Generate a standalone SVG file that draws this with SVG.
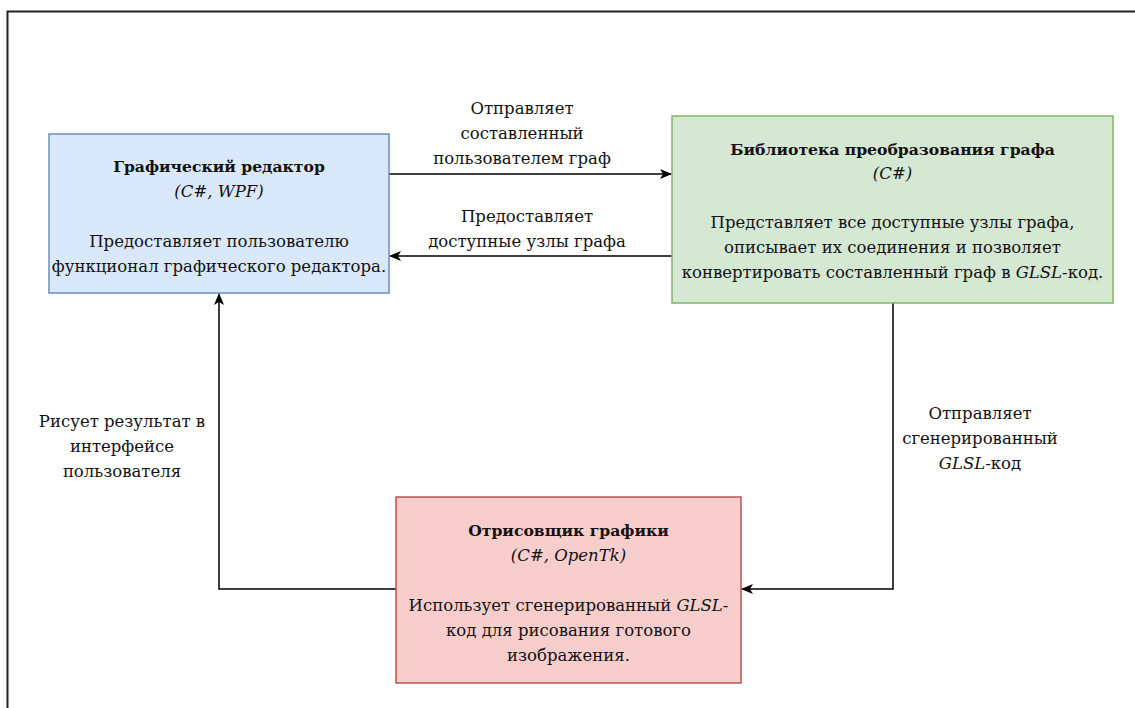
<svg xmlns="http://www.w3.org/2000/svg" width="1135" height="708" viewBox="0 0 1135 708">
<style>
text{font-family:'DejaVu Serif','Liberation Serif',serif;font-size:16.5px;fill:#111;text-anchor:middle}
.b{font-weight:bold;font-size:15.6px}
.i{font-style:italic}
.edge{fill:none;stroke:#000;stroke-width:1.5}
</style>
<defs>
<marker id="arr" viewBox="0 0 12 10" refX="11" refY="5" markerWidth="12" markerHeight="10" markerUnits="userSpaceOnUse" orient="auto">
<path d="M0,0 L12,5 L0,10 L3,5 Z" fill="#000"/>
</marker>
</defs>
<rect x="0" y="0" width="1135" height="708" fill="#fff"/>
<path d="M7.5,708 V11.5 H1135" fill="none" stroke="#222" stroke-width="2"/>
<g id="connectors">
<path class="edge" d="M389,174 H671" marker-end="url(#arr)"/>
<path class="edge" d="M672,256 H390" marker-end="url(#arr)"/>
<path class="edge" d="M893,303 V589 H742" marker-end="url(#arr)"/>
<path class="edge" d="M396,589 H219 V294" marker-end="url(#arr)"/>
<text x="522" y="114">Отправляет</text>
<text x="522" y="139">составленный</text>
<text x="522" y="164">пользователем граф</text>
<text x="527" y="222">Предоставляет</text>
<text x="527" y="247">доступные узлы графа</text>
<text x="980" y="419">Отправляет</text>
<text x="980" y="444">сгенерированный</text>
<text x="980" y="469"><tspan class="i">GLSL</tspan>-код</text>
<text x="122" y="427">Рисует результат в</text>
<text x="122" y="452">интерфейсе</text>
<text x="122" y="477">пользователя</text>
</g>
<g id="editor">
<rect x="49" y="134" width="340" height="159" fill="#dae8fc" stroke="#6c8ebf" stroke-width="1.5"/>
<text class="b" x="219" y="172">Графический редактор</text>
<text class="i" x="219" y="197">(C#, WPF)</text>
<text x="219" y="247">Предоставляет пользователю</text>
<text x="219" y="272">функционал графического редактора.</text>
</g>
<g id="library">
<rect x="672" y="116" width="441" height="187" fill="#d5e8d4" stroke="#82b366" stroke-width="1.5"/>
<text class="b" x="892.5" y="155">Библиотека преобразования графа</text>
<text class="i" x="892.5" y="179">(C#)</text>
<text x="892.5" y="228">Представляет все доступные узлы графа,</text>
<text x="892.5" y="253">описывает их соединения и позволяет</text>
<text x="892.5" y="278">конвертировать составленный граф в <tspan class="i">GLSL</tspan>-код.</text>
</g>
<g id="renderer">
<rect x="396" y="497" width="345" height="186" fill="#f8cecc" stroke="#b85450" stroke-width="1.5"/>
<text class="b" x="568.5" y="536">Отрисовщик графики</text>
<text class="i" x="568.5" y="561">(C#, OpenTk)</text>
<text x="568.5" y="611">Использует сгенерированный <tspan class="i">GLSL</tspan>-</text>
<text x="568.5" y="636">код для рисования готового</text>
<text x="568.5" y="661">изображения.</text>
</g>
</svg>
